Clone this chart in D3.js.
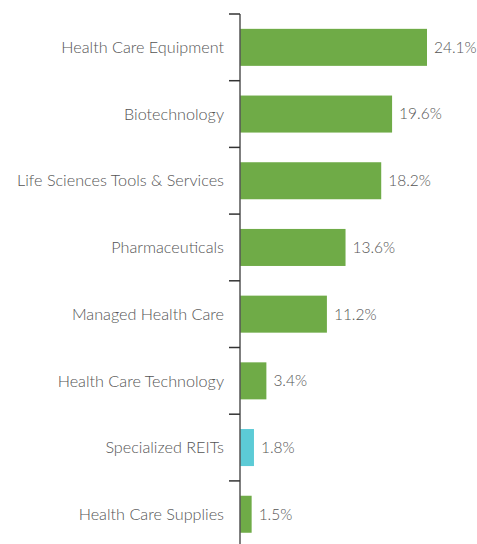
<!DOCTYPE html>
<html>
<head>
<meta charset="utf-8">
<script src="https://cdn.jsdelivr.net/npm/d3@7"></script>
<style>
  body { margin: 0; background: #fff; }
  text { font-family: Lato, "Open Sans", sans-serif; font-weight: 300; fill: #555; }
</style>
</head>
<body>
<div id="chart"></div>
<script>
// sector weights, top to bottom
const categories = [
    "Health Care Equipment",
    "Biotechnology",
    "Life Sciences Tools & Services",
    "Pharmaceuticals",
    "Managed Health Care",
    "Health Care Technology",
    "Specialized REITs",
    "Health Care Supplies"
];
const values = [24.1, 19.6, 18.2, 13.6, 11.2, 3.4, 1.8, 1.5];
const highlighted = ["Specialized REITs"];

const width = 477;
const height = 544;
const axisX = 240;
const axisTop = 14;
const step = 66.7;
const pad = 0.445;

const svg = d3.select("#chart")
    .append("svg")
    .attr("width", width)
    .attr("height", height);

const y = d3.scaleBand()
    .domain(categories)
    .range([axisTop, axisTop + step * categories.length])
    .paddingInner(pad)
    .paddingOuter(pad / 2);

const x = d3.scaleLinear()
    .domain([0, 24.1])
    .range([axisX, 427]);

const data = categories.map((c, i) => ({ name: c, value: values[i] }));

// bars
svg.selectAll("rect.bar")
    .data(data)
    .join("rect")
    .attr("class", "bar")
    .attr("x", x(0))
    .attr("y", d => y(d.name))
    .attr("width", d => x(d.value) - x(0))
    .attr("height", y.bandwidth())
    .attr("fill", d => highlighted.includes(d.name) ? "#5ccbd6" : "#6fab47");

// value labels
svg.selectAll("text.value")
    .data(data)
    .join("text")
    .attr("class", "value")
    .attr("x", d => x(d.value) + 7)
    .attr("y", d => y(d.name) + y.bandwidth() / 2)
    .attr("dy", "0.35em")
    .style("font-size", "15.5px")
    .text(d => d.value.toFixed(1) + "%");

// category labels
svg.selectAll("text.cat")
    .data(data)
    .join("text")
    .attr("class", "cat")
    .attr("x", axisX - 16)
    .attr("y", d => y(d.name) + y.bandwidth() / 2)
    .attr("dy", "0.35em")
    .attr("text-anchor", "end")
    .style("font-size", "16.2px")
    .text(d => d.name);

// axis line + ticks at band boundaries
const bounds = categories.map(c => y(c) - y.step() * pad / 2);
svg.append("line")
    .attr("x1", axisX).attr("x2", axisX)
    .attr("y1", axisTop).attr("y2", height)
    .attr("stroke", "#555")
    .attr("stroke-width", 1.5);

svg.selectAll("line.tick")
    .data(bounds)
    .join("line")
    .attr("class", "tick")
    .attr("x1", axisX - 11).attr("x2", axisX)
    .attr("y1", d => d).attr("y2", d => d)
    .attr("stroke", "#333")
    .attr("stroke-width", 1.5);
</script>
</body>
</html>
